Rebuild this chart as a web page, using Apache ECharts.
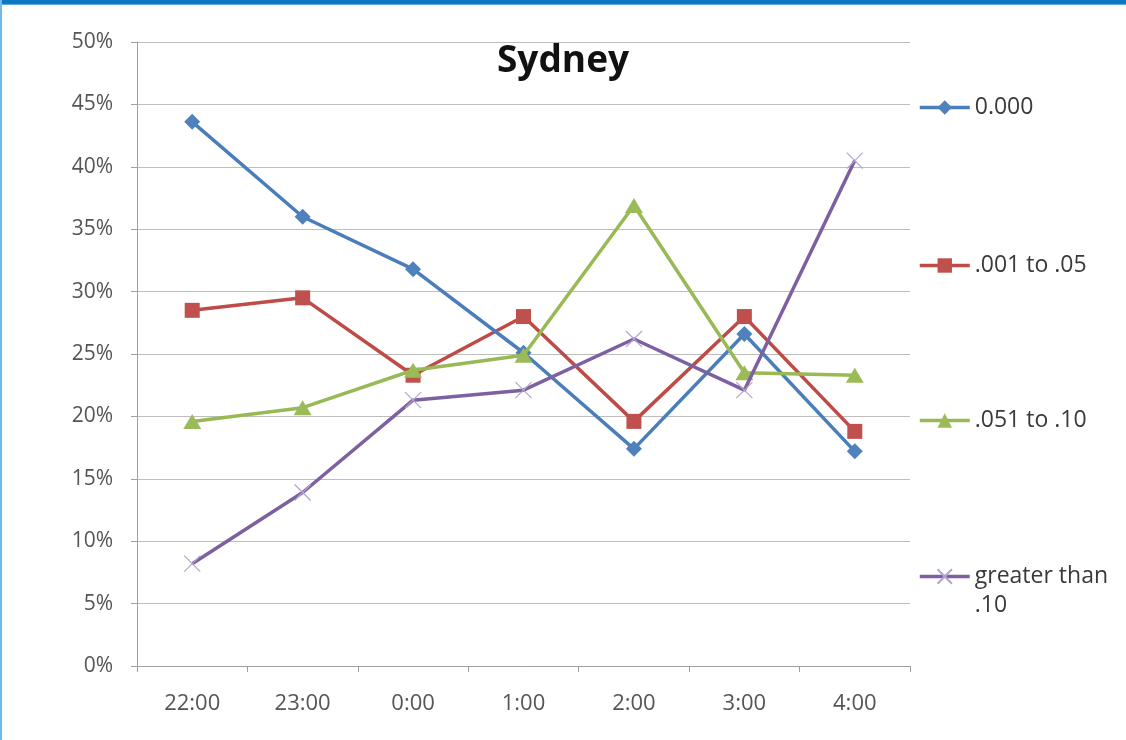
<!DOCTYPE html>
<html>
<head>
<meta charset="utf-8">
<title>Sydney</title>
<script src="https://cdn.jsdelivr.net/npm/echarts@6/dist/echarts.min.js"></script>
<style>
  html, body { margin: 0; padding: 0; background: #ffffff; }
  #chart { width: 1126px; height: 740px; }
</style>
</head>
<body>
<div id="chart"></div>
<script>
// Hour of night
const hours = ['22:00', '23:00', '0:00', '1:00', '2:00', '3:00', '4:00'];

// Share of nights (%) in each rainfall band
const seriesNames = ['0.000', '.001 to .05', '.051 to .10', 'greater than .10'];
const band0000 = [43.6, 36.0, 31.8, 25.1, 17.4, 26.6, 17.2];
const band001to05 = [28.5, 29.5, 23.3, 28.0, 19.6, 28.0, 18.8];
const band051to10 = [19.6, 20.7, 23.7, 24.9, 36.9, 23.5, 23.3];
const bandOver10 = [8.2, 13.9, 21.3, 22.1, 26.2, 22.1, 40.5];

const FONT = '"Open Sans", "DejaVu Sans", sans-serif';
const crossPath = 'path://M0,0L10,10M10,0L0,10';
const LINE_W = 3.5;

const chart = echarts.init(document.getElementById('chart'), null, { renderer: 'canvas' });

// One legend block per series so each entry sits level with its own band
function legendAt(name, top, extra) {
  return Object.assign({
    data: [name],
    orient: 'vertical',
    left: 918,
    top: top,
    padding: 0,
    itemWidth: 50,
    itemHeight: 18,
    itemGap: 4,
    selectedMode: false,
    lineStyle: { width: LINE_W },
    textStyle: { fontFamily: FONT, fontSize: 23, color: '#3a3a3a' }
  }, extra || {});
}

const option = {
  animation: false,
  backgroundColor: '#ffffff',
  title: {
    text: 'Sydney',
    left: 'center',
    top: 38,
    textStyle: { fontFamily: FONT, fontSize: 37, fontWeight: 'bold', color: '#111111' }
  },
  graphic: [
    { type: 'rect', shape: { x: 0, y: 0, width: 1126, height: 4 }, style: { fill: '#0b78c1' }, z: 100 },
    { type: 'rect', shape: { x: 0, y: 4, width: 1126, height: 1 }, style: { fill: '#5aaee0' }, z: 100 },
    { type: 'rect', shape: { x: 0, y: 0, width: 2, height: 740 }, style: { fill: '#6fbbe8' }, z: 100 }
  ],
  legend: [
    legendAt(seriesNames[0], 96),
    legendAt(seriesNames[1], 254),
    legendAt(seriesNames[2], 409),
    legendAt(seriesNames[3], 533, {
      // blank lead line keeps the first text line level with the icon
      formatter: function () { return ' \ngreater than\n.10'; },
      textStyle: { fontFamily: FONT, fontSize: 23, color: '#3a3a3a', lineHeight: 29 }
    })
  ],
  grid: { left: 137, right: 216, top: 42, bottom: 74, containLabel: false },
  xAxis: {
    type: 'category',
    data: hours,
    boundaryGap: true,
    axisLine: { lineStyle: { color: '#a0a0a0', width: 1 } },
    axisTick: { show: true, length: 6, lineStyle: { color: '#a0a0a0' } },
    axisLabel: { margin: 27, fontFamily: FONT, fontSize: 22, color: '#555555' },
    splitLine: { show: false }
  },
  yAxis: {
    type: 'value',
    min: 0,
    max: 50,
    interval: 5,
    axisLine: { show: true, lineStyle: { color: '#a0a0a0', width: 1 } },
    axisTick: { show: true, length: 6, lineStyle: { color: '#a0a0a0' } },
    axisLabel: { margin: 24, fontFamily: FONT, fontSize: 21, color: '#555555', formatter: '{value}%' },
    splitLine: { show: true, lineStyle: { color: '#bdbdbd', width: 1.2 } }
  },
  series: [
    {
      name: seriesNames[0], type: 'line', data: band0000,
      symbol: 'diamond', symbolSize: 16,
      lineStyle: { color: '#4a7ebb', width: LINE_W },
      itemStyle: { color: '#4f81bd' }, z: 3
    },
    {
      name: seriesNames[1], type: 'line', data: band001to05,
      symbol: 'rect', symbolSize: 15,
      lineStyle: { color: '#be4b48', width: LINE_W },
      itemStyle: { color: '#c0504d' }, z: 2
    },
    {
      name: seriesNames[2], type: 'line', data: band051to10,
      symbol: 'triangle', symbolSize: [18, 15],
      lineStyle: { color: '#98b954', width: LINE_W },
      itemStyle: { color: '#9bbb59' }, z: 4
    },
    {
      name: seriesNames[3], type: 'line', data: bandOver10,
      symbol: crossPath, symbolSize: 16,
      lineStyle: { color: '#7d60a0', width: LINE_W },
      itemStyle: { color: 'rgba(0,0,0,0)', borderColor: '#b5a3d0', borderWidth: 1.2 }, z: 5
    }
  ]
};

chart.setOption(option);
</script>
</body>
</html>
